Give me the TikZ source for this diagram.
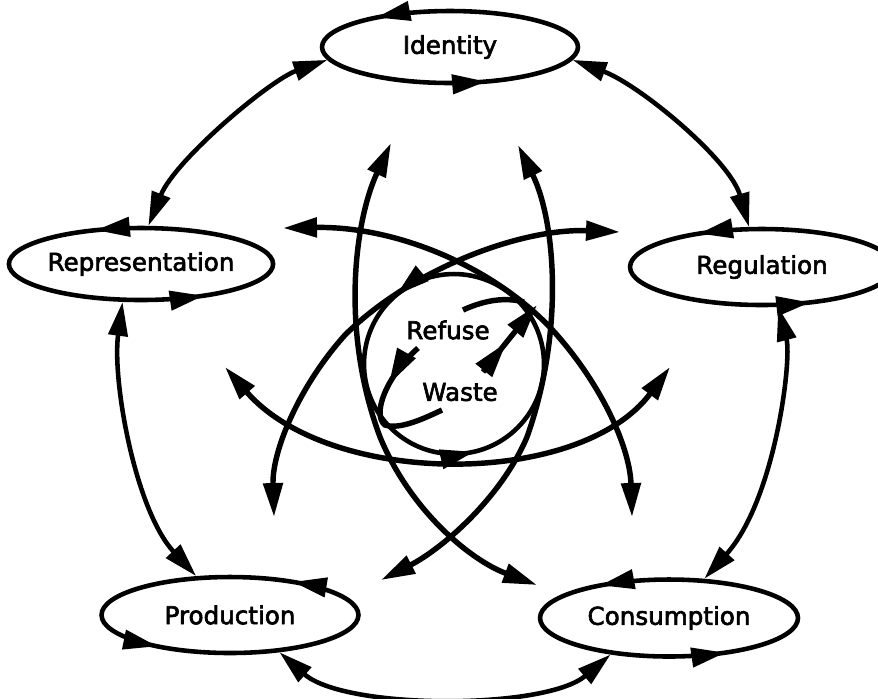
\documentclass[tikz,border=0pt]{standalone}
\usepackage{fontspec}
\setmainfont{DejaVu Sans}
\newfontfamily\momentfont{DejaVu Sans}[BoldFont=DejaVu Sans,BoldFeatures={FakeBold=2.5}]
\usetikzlibrary{arrows.meta,shapes.geometric,decorations.markings}

\begin{document}
\begin{tikzpicture}[x=0.02cm,y=-0.02cm,
  >={Triangle[length=6.8mm,width=3.8mm]},
  every path/.style={line width=2.6pt},
  place/.style={ellipse,draw,inner sep=0pt,font=\momentfont\bfseries\fontsize{14}{17}\selectfont},
  word/.style={font=\momentfont\bfseries\fontsize{14}{17}\selectfont},
  flow/.style={line width=3.1pt},
  heads/.style 2 args={postaction={decorate,decoration={markings,
      mark=at position #1 with {\arrow{>}},
      mark=at position #2 with {\arrow{>}}}}},
  midhead/.style={postaction={decorate,decoration={markings,
      mark=at position #1 with {\arrow{>}}}}}]
\useasboundingbox (0,0) rectangle (878,698);
% the five moments
\node[place,minimum width=5.12cm,minimum height=1.44cm,heads={.383}{.815}] (ident) at (450,47) {Identity};
\node[place,minimum width=5.12cm,minimum height=1.44cm,heads={.329}{.86}] (repr) at (141,264) {Representation\hspace{8pt}};
\node[place,minimum width=5.28cm,minimum height=1.52cm,heads={.36}{.834}] (regul) at (762,267) {Regulation};
\node[place,minimum width=5.14cm,minimum height=1.52cm,heads={.138}{.62}] (prod) at (230,615) {Production\hspace{6pt}};
\node[place,minimum width=5.16cm,minimum height=1.54cm,heads={.372}{.85}] (cons) at (669,618) {Consumption};
% centre
\node[circle,draw,minimum size=3.6cm,inner sep=0pt,heads={.361}{.786}] (waste) at (454,364) {};
\node[word] (refuse) at (448,330) {Refuse};
\node[word] (wastetxt) at (460,392) {Waste};
% outer ring
\draw[<->] (ident.186) .. controls (270,80) and (175,160) .. (repr.79);
\draw[<->] (ident.-6) .. controls (640,85) and (730,160) .. (regul.108);
\draw[<->] (regul.-68) .. controls (792,360) and (775,500) .. (cons.48);
\draw[<->] (cons.212) .. controls (545,710) and (345,710) .. (prod.-37);
\draw[<->] (prod.131) .. controls (135,510) and (112,380) .. (repr.244);
% inner loops
\coordinate (aL) at (283,228);
\coordinate (aR) at (632,517);
\coordinate (bR) at (620,232);
\coordinate (bL) at (274,517);
\coordinate (cL) at (225,367);
\coordinate (cR) at (670,367);
\coordinate (dT) at (391,143);
\coordinate (dB) at (537,585);
\coordinate (eT) at (518,145);
\coordinate (eB) at (381,580);
\draw[flow,<->] (aL) .. controls (400,226) and (500,270) .. (557,335) .. controls (605,390) and (630,450) .. (aR);
\draw[flow,<->] (bR) .. controls (520,228) and (410,270) .. (345,335) .. controls (300,385) and (272,450) .. (bL);
\draw[flow,<->] (cL) .. controls (330,488) and (580,488) .. (cR);
\draw[flow,<->] (dT) .. controls (355,220) and (340,330) .. (380,437) .. controls (410,510) and (470,560) .. (dB);
\draw[flow,<->] (eT) .. controls (555,220) and (565,330) .. (527,437) .. controls (500,500) and (440,550) .. (eB);
% spiral inside
\draw[flow] (463,310) .. controls (485,300) and (505,297) .. (524,302);
\draw[flow,->,midhead=.42] (483,372) .. controls (500,350) and (518,328) .. (537,305);
\draw[flow,midhead=.3] (418,348) .. controls (385,378) and (372,415) .. (385,425) .. controls (400,430) and (425,418) .. (442,410);
\end{tikzpicture}
\end{document}
